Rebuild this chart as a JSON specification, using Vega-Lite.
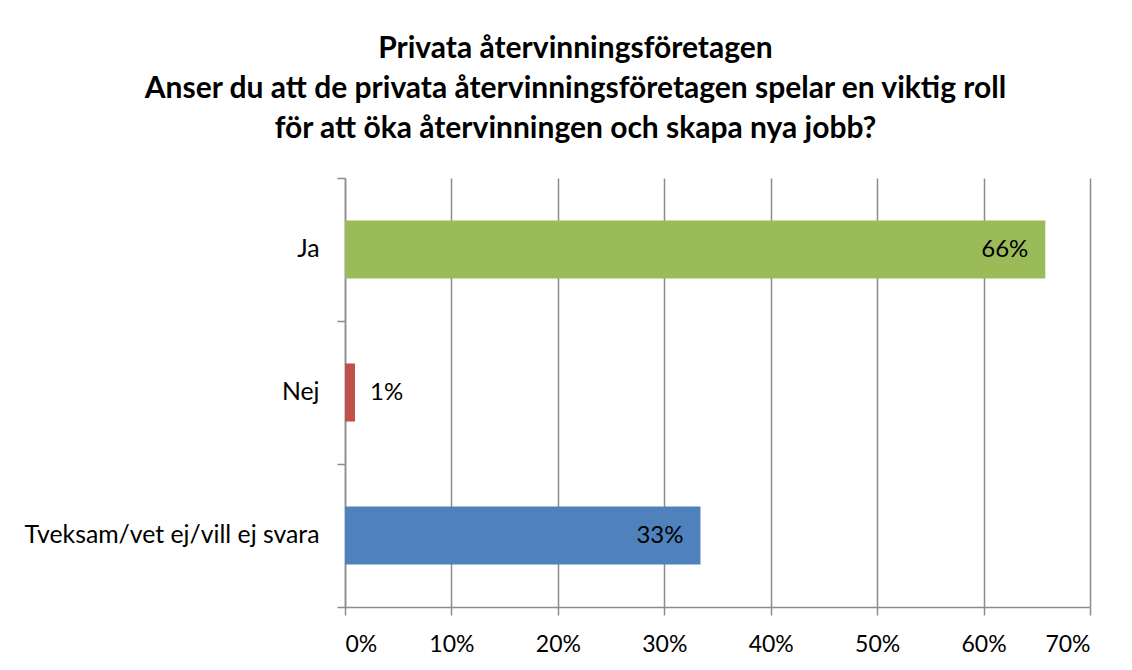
{
  "$schema": "https://vega.github.io/schema/vega-lite/v6.json",
  "autosize": "none",
  "width": 745,
  "height": 429,
  "padding": {"left": 345, "top": 178, "right": 42, "bottom": 63},
  "background": "white",
  "config": {
    "font": "Lato",
    "view": {"stroke": null},
    "axis": {"labelFont": "Lato", "labelColor": "#000000", "labelFontSize": 23, "labelLimit": 400, "domainColor": "#8C8C8C", "tickColor": "#8C8C8C", "gridColor": "#8C8C8C", "domainWidth": 1.5, "tickWidth": 1.5, "gridWidth": 1.5}
  },
  "title": {
    "text": ["Privata återvinningsföretagen", "Anser du att de privata återvinningsföretagen spelar en viktig roll", "för att öka återvinningen och skapa nya jobb?"],
    "font": "Lato",
    "fontSize": 30,
    "fontWeight": "bold",
    "color": "#000000",
    "lineHeight": 40,
    "anchor": "middle",
    "dx": -142,
    "dy": 5,
    "offset": 26
  },
  "data": {
    "values": [
      {"svar": "Ja", "andel": 0.658},
      {"svar": "Nej", "andel": 0.0094},
      {"svar": "Tveksam/vet ej/vill ej svara", "andel": 0.334}
    ]
  },
  "encoding": {
    "y": {
      "field": "svar",
      "type": "nominal",
      "sort": ["Ja", "Nej", "Tveksam/vet ej/vill ej svara"],
      "scale": {"paddingInner": 0, "paddingOuter": 0},
      "axis": {"title": null, "tickBand": "extent", "tickSize": 8, "labelPadding": 18, "labelFontSize": 24.8, "grid": false}
    },
    "x": {
      "field": "andel",
      "type": "quantitative",
      "scale": {"domain": [0, 0.7], "nice": false},
      "axis": {"title": null, "values": [0, 0.1, 0.2, 0.3, 0.4, 0.5, 0.6, 0.7], "format": ".0%", "tickSize": 8, "labelPadding": 18, "grid": true}
    }
  },
  "layer": [
    {
      "mark": {"type": "bar", "height": {"band": 0.406}},
      "encoding": {
        "color": {
          "field": "svar",
          "type": "nominal",
          "scale": {"domain": ["Ja", "Nej", "Tveksam/vet ej/vill ej svara"], "range": ["#9BBB59", "#C0504D", "#4F81BD"]},
          "legend": null
        }
      }
    },
    {
      "transform": [{"filter": "datum.andel >= 0.05"}],
      "mark": {"type": "text", "align": "right", "dx": -17, "fontSize": 24, "font": "Lato", "color": "#000000"},
      "encoding": {"text": {"field": "andel", "format": ".0%"}}
    },
    {
      "transform": [{"filter": "datum.andel < 0.05"}],
      "mark": {"type": "text", "align": "left", "dx": 15, "fontSize": 24, "font": "Lato", "color": "#000000"},
      "encoding": {"text": {"field": "andel", "format": ".0%"}}
    }
  ]
}
